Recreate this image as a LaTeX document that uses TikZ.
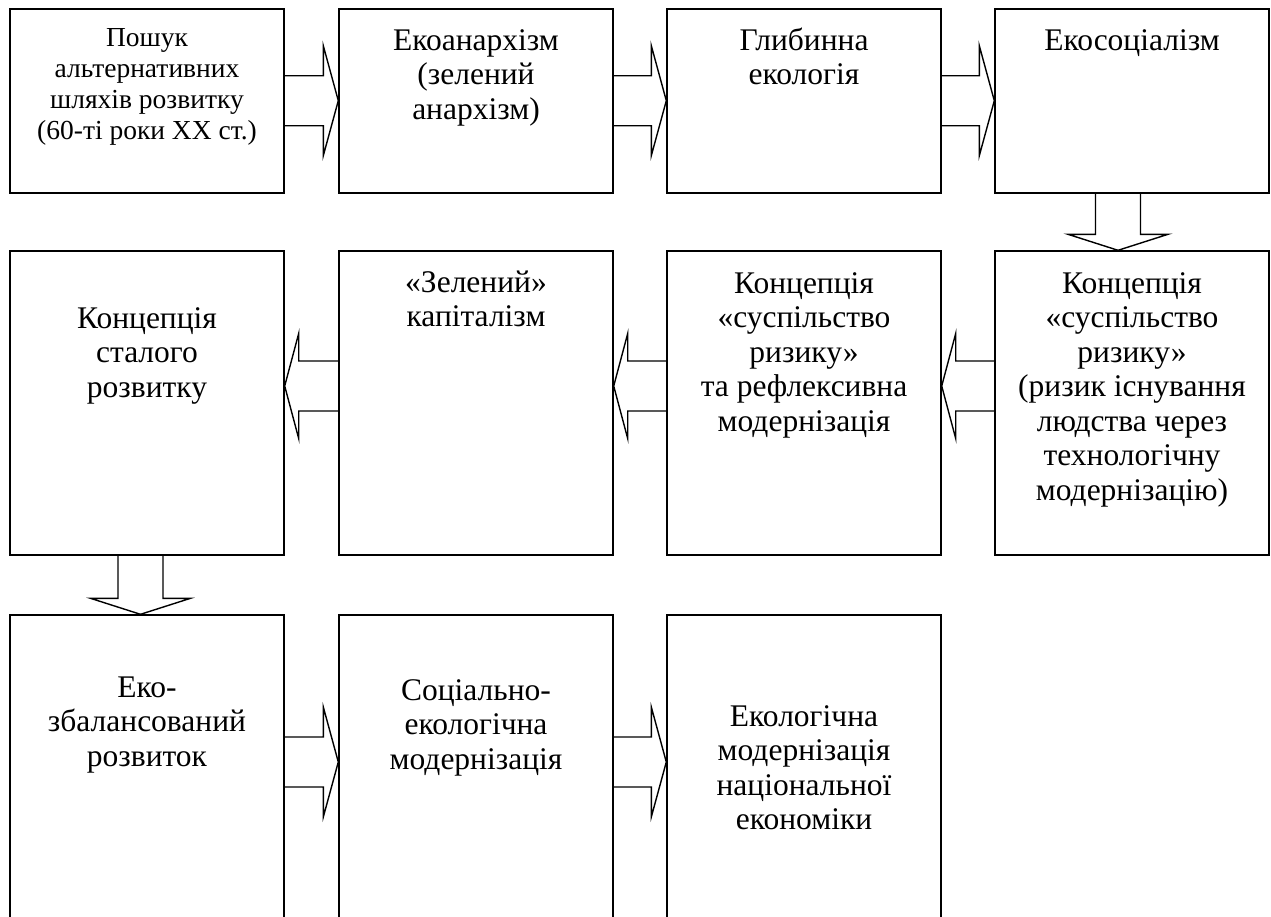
\documentclass[tikz,border=0pt]{standalone}
\usepackage{fontspec}
\setmainfont{Liberation Serif}
\usetikzlibrary{calc}

% Hollow block arrows between boxes: #1 source node, #2 target node, #3 axis position
\newcommand\blockR[3]{\draw[blockarrow] let \p1=(#1.east), \p2=(#2.west) in
  (\x1,#3-25) -- (\x2-15pt,#3-25) -- (\x2-15pt,#3-55) -- (\x2,#3)
  -- (\x2-15pt,#3+55) -- (\x2-15pt,#3+25) -- (\x1,#3+25);}
\newcommand\blockL[3]{\draw[blockarrow] let \p1=(#1.west), \p2=(#2.east) in
  (\x1,#3-25) -- (\x2+14pt,#3-25) -- (\x2+14pt,#3-52.5) -- (\x2,#3)
  -- (\x2+14pt,#3+52.5) -- (\x2+14pt,#3+25) -- (\x1,#3+25);}
\newcommand\blockD[3]{\draw[blockarrow] let \p1=(#1.south), \p2=(#2.north) in
  (#3-22.5,\y1) -- (#3-22.5,\y2+16pt) -- (#3-50,\y2+16pt) -- (#3,\y2)
  -- (#3+50,\y2+16pt) -- (#3+22.5,\y2+16pt) -- (#3+22.5,\y1);}

\begin{document}
\begin{tikzpicture}[x=1pt,y=-1pt,
  box/.style={draw, rectangle, line width=1.4pt, minimum width=274pt, inner sep=0pt},
  % texts are placed by the baseline of their last line
  lbl/.style={align=center, anchor=base, inner sep=0pt, font=\fontsize{31.5}{34.5}\selectfont},
  smalllbl/.style={lbl, font=\fontsize{27.5}{31}\selectfont},
  blockarrow/.style={draw, line width=1.4pt, line join=miter}]
\useasboundingbox (0,0) rectangle (1271,916);

% row 1
\node[box, minimum height=184pt] (b1) at (147,101) {};
\node[box, minimum height=184pt] (b2) at (476,101) {};
\node[box, minimum height=184pt] (b3) at (804,101) {};
\node[box, minimum height=184pt] (b4) at (1132,101) {};
% row 2
\node[box, minimum height=304pt] (b5) at (147,403) {};
\node[box, minimum height=304pt] (b6) at (476,403) {};
\node[box, minimum height=304pt] (b7) at (804,403) {};
\node[box, minimum height=304pt] (b8) at (1132,403) {};
% row 3 (runs past the lower edge)
\node[box, minimum height=310pt] (b9) at (147,770) {};
\node[box, minimum height=310pt] (b10) at (476,770) {};
\node[box, minimum height=310pt] (b11) at (804,770) {};

% texts
\node[smalllbl] (t1) at (147,139) {Пошук\\альтернативних\\шляхів розвитку\\(60-ті роки XX ст.)};
\node[lbl] (t2) at (476,119) {Екоанархізм\\(зелений\\анархізм)};
\node[lbl] (t3) at (804,84.5) {Глибинна\\екологія};
\node[lbl] (t4) at (1132,50) {Екосоціалізм};
\node[lbl] (t5) at (147,397) {Концепція\\сталого\\розвитку};
\node[lbl] (t6) at (476,326.5) {«Зелений»\\капіталізм};
\node[lbl] (t7) at (804,431) {Концепція\\«суспільство\\ризику»\\та рефлексивна\\модернізація};
\node[lbl] (t8) at (1132,500) {Концепція\\«суспільство\\ризику»\\(ризик існування\\людства через\\технологічну\\модернізацію)};
\node[lbl] (t9) at (147,766) {Еко-\\збалансований\\розвиток};
\node[lbl] (t10) at (476,769) {Соціально-\\екологічна\\модернізація};
\node[lbl] (t11) at (804,829.5) {Екологічна\\модернізація\\національної\\економіки};

% arrows
\blockR{b1}{b2}{100.7}
\blockR{b2}{b3}{100.7}
\blockR{b3}{b4}{100.7}
\blockD{b4}{b8}{1118}
\blockL{b8}{b7}{386}
\blockL{b7}{b6}{386}
\blockL{b6}{b5}{386}
\blockD{b5}{b9}{140.5}
\blockR{b9}{b10}{762}
\blockR{b10}{b11}{762}
\end{tikzpicture}
\end{document}
